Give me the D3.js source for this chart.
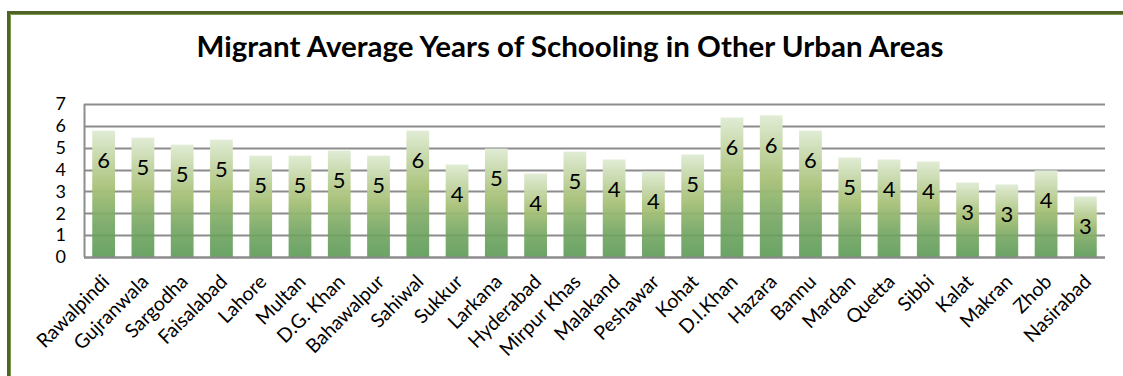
<!DOCTYPE html>
<html>
<head>
<meta charset="utf-8">
<script src="https://cdn.jsdelivr.net/npm/d3@7"></script>
<style>
  html, body { margin: 0; padding: 0; background: #fff; }
  svg { display: block; }
</style>
</head>
<body>
<svg id="chart" width="1123" height="376"></svg>
<script>
// Districts / divisions shown along the x axis
const categories = [
  "Rawalpindi", "Gujranwala", "Sargodha", "Faisalabad", "Lahore", "Multan",
  "D.G. Khan", "Bahawalpur", "Sahiwal", "Sukkur", "Larkana", "Hyderabad",
  "Mirpur Khas", "Malakand", "Peshawar", "Kohat", "D.I.Khan", "Hazara",
  "Bannu", "Mardan", "Quetta", "Sibbi", "Kalat", "Makran", "Zhob", "Nasirabad"
];
// Average years of schooling of migrants
const schooling = [
  5.78, 5.46, 5.14, 5.37, 4.64, 4.64,
  4.87, 4.64, 5.78, 4.23, 4.96, 3.82,
  4.82, 4.46, 3.91, 4.69, 6.38, 6.48,
  5.78, 4.55, 4.46, 4.37, 3.41, 3.32, 3.96, 2.77
];
const yTicks = [0, 1, 2, 3, 4, 5, 6, 7];
const titleText = "Migrant Average Years of Schooling in Other Urban Areas";

const svg = d3.select("#chart");
const W = 1123, H = 376;
const FONT = "Lato, 'Open Sans', sans-serif";

const plot = { left: 84, right: 1105, top: 104, bottom: 257 };

const x = d3.scaleBand()
  .domain(categories)
  .range([plot.left, plot.right])
  .paddingInner(0.42)
  .paddingOuter(0.21);

const y = d3.scaleLinear()
  .domain([0, 7])
  .range([plot.bottom, plot.top]);

// Vertical green gradient for the bars
const defs = svg.append("defs");
const grad = defs.append("linearGradient")
  .attr("id", "barFill")
  .attr("x1", 0).attr("y1", 0).attr("x2", 0).attr("y2", 1);
[
  [0, "#E1ECD5", 1],
  [0.45, "#A9C27A", 0.97],
  [0.75, "#71A45F", 0.9],
  [1, "#5A9A55", 0.9]
].forEach(([o, c, a]) => grad.append("stop")
  .attr("offset", o).attr("stop-color", c).attr("stop-opacity", a));

// Outer frame (left and top edges)
svg.append("path")
  .attr("d", `M8.5,${H} V12.5 H${W}`)
  .attr("fill", "none")
  .attr("stroke", "#4F6228")
  .attr("stroke-width", 3);
svg.append("path")
  .attr("d", `M10.5,${H} V14.5 H${W}`)
  .attr("fill", "none")
  .attr("stroke", "#7E9A48")
  .attr("stroke-width", 1);

// Title
const title = svg.append("text")
  .attr("x", 570)
  .attr("y", 57)
  .attr("text-anchor", "middle")
  .attr("font-family", FONT)
  .attr("font-weight", "bold")
  .attr("font-size", 24)
  .attr("fill", "#000")
  .text(titleText);
// Size the title so it spans ~747px
const tw = title.node().getComputedTextLength();
title.attr("font-size", 24 * 747 / tw);

// Horizontal gridlines
svg.append("g")
  .selectAll("line")
  .data(yTicks)
  .join("line")
  .attr("x1", plot.left)
  .attr("x2", plot.right)
  .attr("y1", d => Math.round(y(d)) + 0.5)
  .attr("y2", d => Math.round(y(d)) + 0.5)
  .attr("stroke", "#8C8C8C")
  .attr("stroke-width", 2);

// Left edge of plot area
svg.append("line")
  .attr("x1", plot.left + 0.5).attr("x2", plot.left + 0.5)
  .attr("y1", y(7)).attr("y2", y(0))
  .attr("stroke", "#8C8C8C").attr("stroke-width", 2);

// Bars
svg.append("g")
  .selectAll("rect")
  .data(schooling)
  .join("rect")
  .attr("x", (d, i) => x(categories[i]))
  .attr("width", x.bandwidth())
  .attr("y", d => y(d))
  .attr("height", d => y(0) - y(d))
  .attr("fill", "url(#barFill)");

// Redraw baseline on top of bars
svg.append("line")
  .attr("x1", plot.left).attr("x2", plot.right)
  .attr("y1", Math.round(y(0)) + 0.5).attr("y2", Math.round(y(0)) + 0.5)
  .attr("stroke", "#8C8C8C").attr("stroke-width", 2);

// Value labels inside bar tops (rounded)
svg.append("g")
  .selectAll("text")
  .data(schooling)
  .join("text")
  .attr("x", (d, i) => x(categories[i]) + x.bandwidth() / 2)
  .attr("y", d => y(d) + 30)
  .attr("dy", "0.35em")
  .attr("text-anchor", "middle")
  .attr("font-family", FONT)
  .attr("font-size", 22)
  .attr("fill", "#000")
  .text(d => d3.format(".0f")(d));

// Y axis labels
const yAxis = d3.axisLeft(y).tickValues(yTicks).tickFormat(d3.format("d"))
  .tickSize(0).tickPadding(18);
const yg = svg.append("g")
  .attr("transform", `translate(${plot.left},0)`)
  .call(yAxis);
yg.select(".domain").remove();
yg.selectAll("text")
  .attr("font-family", FONT)
  .attr("font-size", 18)
  .attr("fill", "#000");

// X axis labels, rotated
const xAxis = d3.axisBottom(x).tickSize(0).tickPadding(0);
const xg = svg.append("g")
  .attr("transform", `translate(0,${plot.bottom})`)
  .call(xAxis);
xg.select(".domain").remove();
xg.selectAll("text")
  .attr("font-family", FONT)
  .attr("font-size", 19.5)
  .attr("fill", "#000")
  .attr("text-anchor", "end")
  .attr("dy", 0)
  .attr("y", 0)
  .attr("transform", "translate(7,26) rotate(-45)");
</script>
</body>
</html>
